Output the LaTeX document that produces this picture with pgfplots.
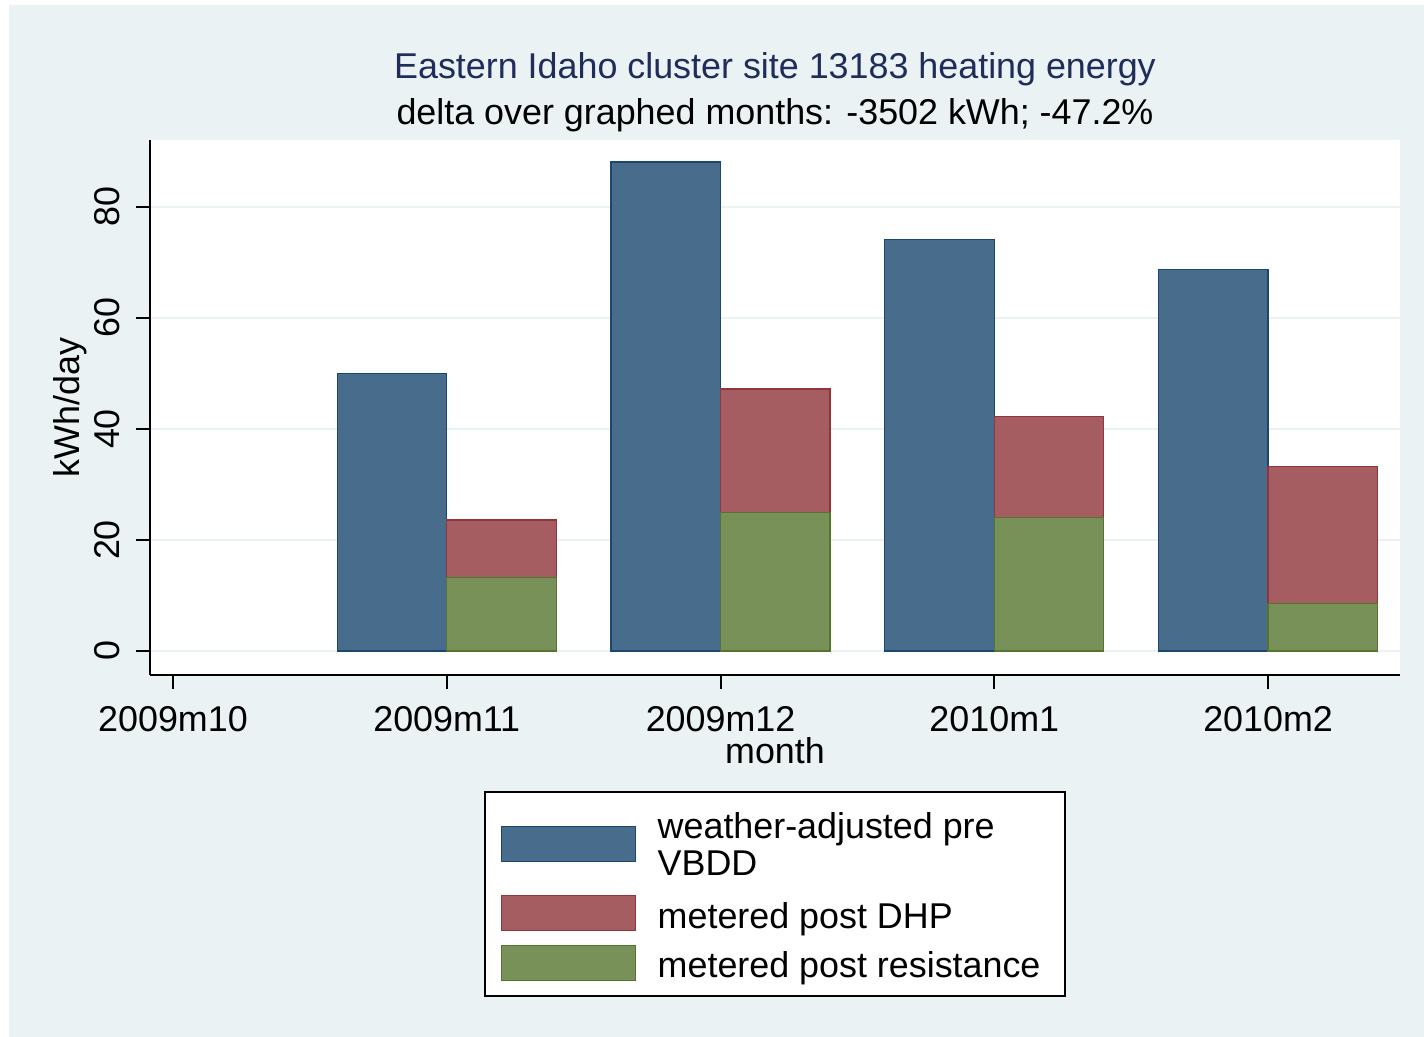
\documentclass[border=0pt]{standalone}
\usepackage{pgfplots}
\pgfplotsset{compat=1.18}
\usepackage{fontspec}
\setmainfont{Liberation Sans}

\definecolor{bgblue}{RGB}{234,242,243}
\definecolor{titlenavy}{RGB}{30,45,90}
\definecolor{navyfill}{RGB}{72,108,140}
\definecolor{navyedge}{RGB}{26,71,111}
\definecolor{maroonfill}{RGB}{166,93,98}
\definecolor{maroonedge}{RGB}{144,53,59}
\definecolor{greenfill}{RGB}{119,145,89}
\definecolor{greenedge}{RGB}{85,117,47}

\newcommand{\chartfont}{\fontsize{18}{18.5}\selectfont}
% struts fixing the height/depth of legend rows
\newcommand{\rowstrut}{\rule[-7.5bp]{0pt}{24.5bp}}

\begin{document}
\begin{tikzpicture}
% page and graph region (1px = 0.5bp, axis corner at pixel 150,675)
\fill[white] (-75bp,-181bp) rectangle (637bp,337.5bp);
\fill[bgblue] (-70.5bp,-181bp) rectangle (637bp,335bp);

\begin{axis}[
    at={(0,0)}, anchor=south west,
    scale only axis, width=625bp, height=267.5bp,
    xmin=-0.084, xmax=4.482, ymin=-4.32, ymax=92.07,
    axis x line*=bottom, axis y line*=left,
    axis line style={line width=1bp, black},
    axis background/.style={fill=white},
    tick align=outside, major tick length=7bp,
    tick style={line width=1bp, black},
    xtick={0,1,2,3,4},
    xticklabels={2009m10,2009m11,2009m12,2010m1,2010m2},
    ytick={0,20,40,60,80},
    ymajorgrids, grid style={line width=1.2bp, bgblue},
    /pgf/number format/assume math mode=true,
    tick label style={font=\chartfont},
    xticklabel style={yshift=-5bp},
    yticklabel style={rotate=90, anchor=south, inner ysep=8bp},
    label style={font=\chartfont},
    xlabel={month},
    xlabel style={at={(axis description cs:0.5,-0.1645)}, anchor=base},
    ylabel={kWh/day},
    ylabel style={at={(axis description cs:-0.0568,0.5)}, rotate=0, anchor=base},
    legend style={
        at={(0.5,-0.2168)}, anchor=north,
        draw=black, line width=1bp, fill=white,
        font=\chartfont, inner xsep=8bp, inner ysep=1.5bp,
        row sep=0pt, column sep=11bp,
        nodes={inner sep=0pt, text depth={}},
        cells={anchor=base west},
    },
]
\addplot[ybar, bar width=0.4, bar shift=-0.2, fill=navyfill, draw=navyedge, line width=0.6bp,
    legend image code/.code={\draw[fill=navyfill, draw=navyedge, line width=0.6bp] (0bp,7bp) rectangle (67bp,24.5bp);}]
    coordinates {(1,50.0) (2,88.1) (3,74.2) (4,68.8)};
\addlegendentry[align=left]{\rule{0pt}{22bp}weather-adjusted pre\\\rule[-9.5bp]{0pt}{9.5bp}VBDD}
\addplot[ybar, bar width=0.4, bar shift=0.2, fill=maroonfill, draw=maroonedge, line width=0.6bp,
    legend image code/.code={\draw[fill=maroonfill, draw=maroonedge, line width=0.6bp] (0bp,-1bp) rectangle (67bp,16.5bp);}]
    coordinates {(1,23.6) (2,47.2) (3,42.2) (4,33.2)};
\addlegendentry{\rowstrut metered post DHP}
\addplot[ybar, bar width=0.4, bar shift=0.2, fill=greenfill, draw=greenedge, line width=0.6bp,
    legend image code/.code={\draw[fill=greenfill, draw=greenedge, line width=0.6bp] (0bp,-1.5bp) rectangle (67bp,16bp);}]
    coordinates {(1,13.3) (2,25.0) (3,24.1) (4,8.6)};
\addlegendentry{\rowstrut metered post resistance\rule{4.5bp}{0pt}}
\end{axis}

\node[anchor=base, font=\chartfont, text=titlenavy, inner sep=0pt] at (312.5bp,298bp)
    {Eastern Idaho cluster site 13183 heating energy};
\node[anchor=base, font=\chartfont, inner sep=0pt] at (312.5bp,275bp)
    {delta over graphed months: -3502 kWh; -47.2\%};
\end{tikzpicture}
\end{document}
